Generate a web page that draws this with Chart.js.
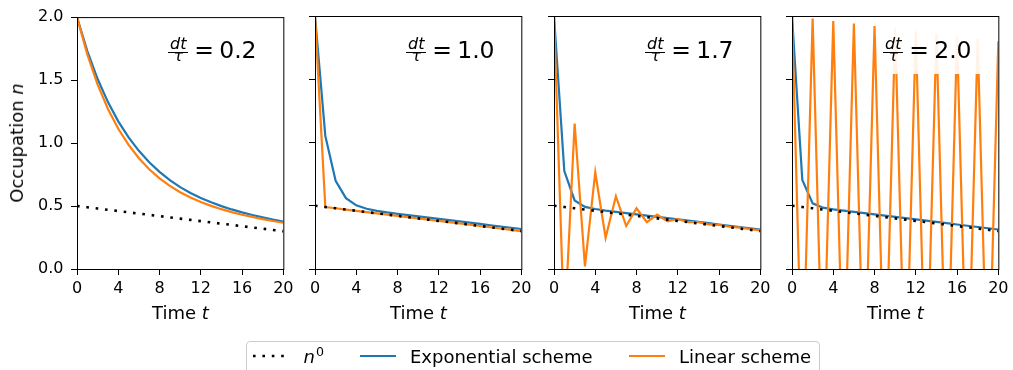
<!DOCTYPE html>
<html>
<head>
<meta charset="utf-8">
<script src="https://cdn.jsdelivr.net/npm/chart.js@4.4.1/dist/chart.umd.min.js"></script>
<style>
  html, body { margin: 0; padding: 0; background: #fff; }
  #fig { position: relative; width: 1013px; height: 370px; overflow: hidden; font-family: "DejaVu Sans", sans-serif; color: #000; }
  #fig canvas { position: absolute; top: 0; }
  .txt { position: absolute; white-space: nowrap; }
  .note-box { position: absolute; background: rgba(255, 255, 255, 0.9); }
  .bar { position: absolute; height: 1px; background: #000; }
  .legend { position: absolute; left: 246px; top: 341px; width: 574px; height: 40px; box-sizing: border-box;
            border: 1px solid #cccccc; border-radius: 4px; background: rgba(255, 255, 255, 0.8); }
</style>
</head>
<body>
<div id="fig"></div>
<script>
// time steps shared by every panel
const times = [0, 1, 2, 3, 4, 5, 6, 7, 8, 9, 10, 11, 12, 13, 14, 15, 16, 17, 18, 19, 20];
// reference occupation n0
const refLevel = [0.50, 0.49, 0.48, 0.47, 0.46, 0.45, 0.44, 0.43, 0.42, 0.41, 0.40,
                  0.39, 0.38, 0.37, 0.36, 0.35, 0.34, 0.33, 0.32, 0.31, 0.30];
const ratioLabels = ["0.2", "1.0", "1.7", "2.0"];

// dt/tau = 0.2
const exp02 = [2.00, 1.730, 1.508, 1.325, 1.172, 1.045, 0.938, 0.848, 0.771, 0.706, 0.650,
               0.604, 0.564, 0.530, 0.499, 0.473, 0.450, 0.429, 0.410, 0.392, 0.376];
const lin02 = [2.00, 1.704, 1.464, 1.270, 1.113, 0.985, 0.879, 0.792, 0.720, 0.660, 0.610,
               0.568, 0.532, 0.501, 0.475, 0.452, 0.431, 0.413, 0.396, 0.381, 0.367];
// dt/tau = 1.0
const exp10 = [2.00, 1.052, 0.697, 0.560, 0.503, 0.476, 0.460, 0.447, 0.436, 0.426, 0.416,
               0.406, 0.396, 0.386, 0.376, 0.366, 0.356, 0.346, 0.336, 0.326, 0.316];
const lin10 = [2.00, 0.49, 0.48, 0.47, 0.46, 0.45, 0.44, 0.43, 0.42, 0.41, 0.40,
               0.39, 0.38, 0.37, 0.36, 0.35, 0.34, 0.33, 0.32, 0.31, 0.30];
// dt/tau = 1.7
const exp17 = [2.00, 0.774, 0.542, 0.491, 0.474, 0.462, 0.452, 0.442, 0.432, 0.422, 0.412,
               0.402, 0.392, 0.382, 0.372, 0.362, 0.352, 0.342, 0.332, 0.322, 0.312];
const lin17 = [2.00, -0.51, 1.15, 0.02, 0.765, 0.247, 0.575, 0.340, 0.480, 0.370, 0.430,
               0.377, 0.395, 0.370, 0.370, 0.352, 0.348, 0.334, 0.327, 0.315, 0.306];
// dt/tau = 2.0
const exp20 = [2.00, 0.703, 0.519, 0.485, 0.472, 0.462, 0.452, 0.442, 0.432, 0.422, 0.412,
               0.402, 0.392, 0.382, 0.372, 0.362, 0.352, 0.342, 0.332, 0.322, 0.312];
const lin20 = [2.00, -1.00, 1.98, -1.02, 1.96, -1.04, 1.94, -1.06, 1.92, -1.08, 1.90,
               -1.10, 1.88, -1.12, 1.86, -1.14, 1.84, -1.16, 1.82, -1.18, 1.80];

const expSeries = [exp02, exp10, exp17, exp20];
const linSeries = [lin02, lin10, lin17, lin20];

const BLUE = "#1f77b4";
const ORANGE = "#ff7f0e";

// plot-area geometry (px)
const plotLeft = [77, 315, 554, 792];
const PLOT_W = 207;
const PLOT_TOP = 16;
const PLOT_BOTTOM = 269;
const AXIS_W = 70;
const CANVAS_W = AXIS_W + PLOT_W + 14;
const CANVAS_H = 370;

Chart.defaults.font.family = "'DejaVu Sans', sans-serif";
Chart.defaults.font.size = 16;
Chart.defaults.color = "#000";

const fig = document.getElementById("fig");

// black box round the plot area, drawn over the lines like axis spines
const frame = {
  id: "frame",
  afterDatasetsDraw(chart) {
    const { ctx, chartArea: a } = chart;
    ctx.save();
    ctx.strokeStyle = "#000";
    ctx.lineWidth = 1;
    ctx.strokeRect(a.left + 0.5, a.top + 0.5, a.right - a.left, a.bottom - a.top);
    ctx.restore();
  }
};

function pts(values) {
  return times.map((t, i) => ({ x: t, y: values[i] }));
}

function addText(html, left, top, style) {
  const el = document.createElement("div");
  el.className = "txt";
  el.innerHTML = html;
  el.style.left = left + "px";
  el.style.top = top + "px";
  Object.assign(el.style, style || {});
  fig.appendChild(el);
  return el;
}

// line-height == font-size, so the baseline sits 0.846 em below the top
function topFor(baseline, size) {
  return baseline - 0.846 * size;
}

function makePanel(idx) {
  const canvas = document.createElement("canvas");
  canvas.width = CANVAS_W;
  canvas.height = CANVAS_H;
  canvas.style.left = (plotLeft[idx] - AXIS_W) + "px";
  fig.appendChild(canvas);

  new Chart(canvas, {
    type: "line",
    data: {
      datasets: [
        { label: "n0", data: pts(refLevel), borderColor: "#000", borderWidth: 2.6,
          borderDash: [2.6, 6.8], borderCapStyle: "butt", order: 0 },
        { label: "Linear scheme", data: pts(linSeries[idx]), borderColor: ORANGE, borderWidth: 2.2, order: 1 },
        { label: "Exponential scheme", data: pts(expSeries[idx]), borderColor: BLUE, borderWidth: 2.2, order: 2 }
      ]
    },
    options: {
      responsive: false,
      animation: false,
      devicePixelRatio: 1,
      layout: { padding: { top: PLOT_TOP, right: CANVAS_W - AXIS_W - PLOT_W, bottom: CANVAS_H - PLOT_BOTTOM - 60, left: 0 } },
      elements: { point: { radius: 0 }, line: { tension: 0 } },
      plugins: { legend: { display: false }, tooltip: { enabled: false } },
      scales: {
        x: {
          type: "linear", min: 0, max: 20,
          ticks: { stepSize: 4, autoSkip: false, maxRotation: 0, padding: 4.5 },
          grid: { drawOnChartArea: false, drawTicks: true, tickLength: 6, tickColor: "#000", tickWidth: 1 },
          border: { display: false },
          afterFit(s) { s.height = 60; }
        },
        y: {
          type: "linear", min: 0, max: 2,
          ticks: { stepSize: 0.5, display: idx === 0, padding: 7.5, callback: v => v.toFixed(1) },
          grid: { drawOnChartArea: false, drawTicks: true, tickLength: 6, tickColor: "#000", tickWidth: 1 },
          border: { display: false },
          afterFit(s) { s.width = AXIS_W; }
        }
      }
    },
    plugins: [frame]
  });

  const L = plotLeft[idx];

  // dt/tau annotation on a translucent white box
  const box = document.createElement("div");
  box.className = "note-box";
  Object.assign(box.style, { left: (L + 87) + "px", top: (PLOT_TOP + 11) + "px", width: "108px", height: "47px" });
  fig.appendChild(box);

  const bar = document.createElement("div");
  bar.className = "bar";
  Object.assign(bar.style, { left: (L + 91.3) + "px", top: "52px", width: "20px" });
  fig.appendChild(bar);

  const fracMid = L + 101.3;
  addText("dt", fracMid, topFor(49.3, 16),
    { fontSize: "16px", lineHeight: "16px", fontStyle: "italic", transform: "translateX(-50%)" });
  addText("τ", fracMid, topFor(61.7, 16),
    { fontSize: "16px", lineHeight: "16px", fontStyle: "italic", transform: "translateX(-50%)" });
  addText("=", L + 117.2, topFor(59.3, 23.5), { fontSize: "23.5px", lineHeight: "23.5px" });
  addText(ratioLabels[idx], L + 142.2, topFor(59.3, 23.5), { fontSize: "23.5px", lineHeight: "23.5px" });

  // x axis title
  addText("Time <i>t</i>", L + PLOT_W / 2, topFor(319.3, 18),
    { fontSize: "18px", lineHeight: "18px", transform: "translateX(-50%)" });
}

for (let i = 0; i < 4; i++) makePanel(i);

// y axis title, rotated to read upwards
addText("Occupation <i>n</i>", 16.8, (PLOT_TOP + PLOT_BOTTOM) / 2 - 9,
  { fontSize: "18px", lineHeight: "18px", transform: "translateX(-50%) rotate(-90deg)", transformOrigin: "50% 50%" });

// legend
const legend = document.createElement("div");
legend.className = "legend";
fig.appendChild(legend);

function handle(left, color, dash, width) {
  const svg = document.createElementNS("http://www.w3.org/2000/svg", "svg");
  svg.setAttribute("width", "36");
  svg.setAttribute("height", "6");
  svg.style.position = "absolute";
  svg.style.left = left + "px";
  svg.style.top = "353px";
  const ln = document.createElementNS("http://www.w3.org/2000/svg", "line");
  ln.setAttribute("x1", "0"); ln.setAttribute("x2", "36");
  ln.setAttribute("y1", "3"); ln.setAttribute("y2", "3");
  ln.setAttribute("stroke", color);
  ln.setAttribute("stroke-width", width);
  if (dash) ln.setAttribute("stroke-dasharray", dash);
  svg.appendChild(ln);
  fig.appendChild(svg);
}

const legTop = topFor(363, 18);
handle(253.2, "#000", "2.6 6.8", 2.6);
addText("<i>n</i><span style=\"font-size:12.6px;position:relative;top:-7px;margin-left:1px\">0</span>", 303.6, legTop,
  { fontSize: "18px", lineHeight: "18px" });
handle(359.6, BLUE, null, 2.2);
addText("Exponential scheme", 410, legTop, { fontSize: "18px", lineHeight: "18px" });
handle(628.5, ORANGE, null, 2.2);
addText("Linear scheme", 679, legTop, { fontSize: "18px", lineHeight: "18px" });
</script>
</body>
</html>
